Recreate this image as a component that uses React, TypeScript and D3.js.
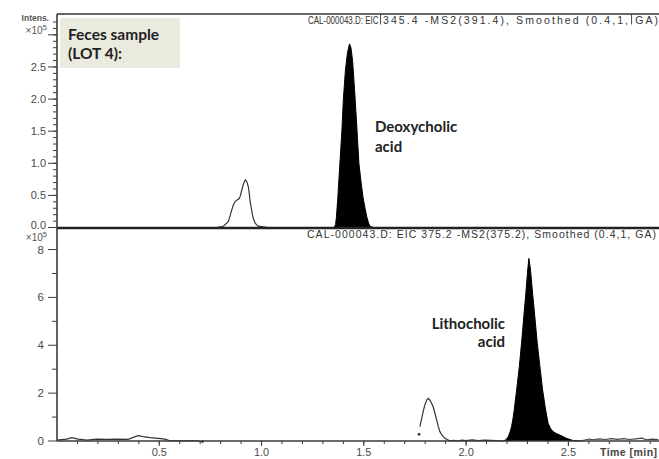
import * as d3 from 'd3';

// retention time (min) / intensity (x10^5) pairs
const topOpenPeak: [number, number][] = [
  [0.78, 0], [0.813, 0.02], [0.837, 0.09], [0.846, 0.18], [0.854, 0.27], [0.862, 0.35],
  [0.87, 0.4], [0.88, 0.43], [0.891, 0.45], [0.897, 0.5], [0.903, 0.58], [0.912, 0.68],
  [0.918, 0.73], [0.922, 0.74], [0.928, 0.71], [0.935, 0.64], [0.94, 0.53], [0.943, 0.43],
  [0.95, 0.3], [0.956, 0.19], [0.962, 0.12], [0.968, 0.07], [0.976, 0.04], [0.984, 0.02],
  [1.008, 0.01], [1.03, 0],
];

const topDeoxycholic: [number, number][] = [
  [1.355, 0], [1.362, 0.05], [1.366, 0.16], [1.373, 0.47], [1.383, 1.0], [1.393, 1.52],
  [1.4, 2.0], [1.41, 2.45], [1.42, 2.72], [1.43, 2.86], [1.437, 2.8], [1.445, 2.6],
  [1.457, 2.03], [1.466, 1.55], [1.476, 1.0], [1.486, 0.72], [1.496, 0.47], [1.506, 0.3],
  [1.515, 0.16], [1.523, 0.07], [1.53, 0.02], [1.545, 0],
];

const botBaseline: [number, number][] = [
  [0, 0.04], [0.047, 0.08], [0.072, 0.14], [0.104, 0.08], [0.145, 0.04], [0.194, 0.08],
  [0.243, 0.07], [0.292, 0.08], [0.348, 0.07], [0.373, 0.15], [0.397, 0.22], [0.422, 0.18],
  [0.455, 0.14], [0.495, 0.11], [0.528, 0.08], [0.552, 0.01], [0.634, 0.01], [0.683, 0.01],
  [0.707, -0.03],
];

const botOpenPeak: [number, number][] = [
  [1.774, 0.6], [1.783, 0.95], [1.792, 1.3], [1.8, 1.55], [1.808, 1.72], [1.815, 1.78],
  [1.822, 1.72], [1.83, 1.6], [1.839, 1.43], [1.848, 1.15], [1.856, 0.88], [1.864, 0.6],
  [1.872, 0.39], [1.884, 0.22], [1.896, 0.11], [1.91, 0.05], [1.921, 0.01], [1.94, 0.03],
  [1.96, 0.0], [1.98, 0.04], [2.0, 0.02], [2.03, 0.05], [2.06, 0.02], [2.09, 0.04],
  [2.12, 0.03], [2.15, 0.02], [2.181, 0],
];

const botLithocholic: [number, number][] = [
  [2.181, 0], [2.195, 0.05], [2.206, 0.18], [2.215, 0.38], [2.222, 0.6], [2.229, 0.92],
  [2.235, 1.29], [2.247, 2.13], [2.26, 3.1], [2.271, 4.08], [2.282, 5.19], [2.292, 6.17],
  [2.301, 7.14], [2.307, 7.63], [2.315, 7.14], [2.325, 6.17], [2.336, 5.19], [2.348, 4.08],
  [2.361, 3.1], [2.374, 2.13], [2.389, 1.29], [2.401, 0.74], [2.413, 0.52], [2.426, 0.39],
  [2.442, 0.31], [2.458, 0.25], [2.475, 0.18], [2.491, 0.11], [2.508, 0.06], [2.524, 0.02],
  [2.556, 0],
];

const botTail: [number, number][] = [
  [2.556, 0], [2.58, 0.04], [2.6, 0.08], [2.62, 0.05], [2.65, 0.09], [2.68, 0.06],
  [2.71, 0.1], [2.74, 0.07], [2.77, 0.1], [2.8, 0.06], [2.83, 0.09], [2.86, 0.12],
  [2.88, 0.05], [2.91, 0.08], [2.94, 0.06],
];

const botDots: [number, number][] = [[0.712, -0.02], [1.77, 0.28]];

const xTickLabels = ['0.5', '1.0', '1.5', '2.0', '2.5'];
const topTickLabels = ['0.0', '0.5', '1.0', '1.5', '2.0', '2.5'];
const botTickLabels = ['0', '2', '4', '6', '8'];
const cursorTimes = [1.582, 2.809];

const topHeaderA = 'CAL-000043.D: EIC';
const topHeaderB = '345.4 -MS2(391.4), Smoothed (0.4,1, GA)';
const botHeader = 'CAL-000043.D: EIC 375.2 -MS2(375.2), Smoothed (0.4,1, GA)';

const W = 659;
const H = 459;
const axisFont = '"Liberation Sans", Arial, sans-serif';
const noteFont = 'Lato, "Open Sans", sans-serif';

export default function App() {
  const x = d3.scaleLinear().domain([0, 2.943]).range([57, 659]);
  const yTop = d3.scaleLinear().domain([0, 3.325]).range([227.5, 14]);
  const yBot = d3.scaleLinear().domain([0, 8.9]).range([441, 228]);

  const lineTop = d3.line<[number, number]>().x(d => x(d[0])).y(d => yTop(d[1]));
  const areaTop = d3.area<[number, number]>().x(d => x(d[0])).y0(yTop(0)).y1(d => yTop(d[1]));
  const lineBot = d3.line<[number, number]>().x(d => x(d[0])).y(d => yBot(d[1]));
  const areaBot = d3.area<[number, number]>().x(d => x(d[0])).y0(yBot(0)).y1(d => yBot(d[1]));

  const xMinor = d3.range(1, 30).map(i => i / 10);
  const topMinor = d3.range(0, 33).map(i => i / 10);
  const botMinor = [1, 3, 5, 7];
  const axisColor = '#3a3a3a';
  const labelColor = '#4a4a4a';

  return (
    <svg width={W} height={H} style={{ position: 'absolute', left: 0, top: 0, background: '#fff' }}>
      {/* top panel frame */}
      <line x1={57} x2={W} y1={14} y2={14} stroke="#666" strokeWidth={2} />
      <text transform="translate(308,23.5) scale(0.76,1)" fontFamily={axisFont} fontSize={10.5} fill="#333">{topHeaderA}</text>
      <text x={383} y={23.5} fontFamily={axisFont} fontSize={10.5} fill="#333"
        textLength={275} lengthAdjust="spacing">{topHeaderB}</text>
      {cursorTimes.map(t => (
        <line key={t} x1={x(t)} x2={x(t)} y1={14} y2={24.5} stroke="#444" strokeWidth={1} />
      ))}

      {/* top traces */}
      <path d={areaTop(topDeoxycholic) ?? ''} fill="#000" />
      <path d={lineTop(topDeoxycholic) ?? ''} fill="none" stroke="#000" strokeWidth={1} />
      <path d={lineTop(topOpenPeak) ?? ''} fill="none" stroke="#333" strokeWidth={1.2} />

      {/* top y axis ticks */}
      {topMinor.map(v => (
        <line key={'tm' + v} x1={53} x2={57} y1={yTop(v)} y2={yTop(v)} stroke={axisColor} strokeWidth={1} />
      ))}
      {[...topTickLabels, '3.0'].map(l => (
        <line key={'tM' + l} x1={48} x2={57} y1={yTop(+l)} y2={yTop(+l)} stroke={axisColor} strokeWidth={1} />
      ))}
      {topTickLabels.map(l => (
        <text key={'tl' + l} x={46} y={yTop(+l) + (l === '0.0' ? 1.5 : 4)} textAnchor="end" fontFamily={axisFont}
          fontSize={11} fill={labelColor}>{l}</text>
      ))}
      <text x={49} y={21} textAnchor="end" fontFamily={axisFont} fontSize={8.5} fontWeight={700} fill="#555">Intens.</text>
      <text x={47} y={34} textAnchor="end" fontFamily={axisFont} fontSize={10} fill="#555">
        ×10<tspan dy={-4.5} fontSize={8}>5</tspan>
      </text>

      {/* annotation box */}
      <rect x={60} y={18} width={120} height={50} fill="#ebeadf" />
      <text x={68} y={40} fontFamily={noteFont} fontWeight={700} fontSize={15.5} fill="#222">Feces sample</text>
      <text x={68} y={59} fontFamily={noteFont} fontWeight={700} fontSize={15.5} fill="#222">(LOT 4):</text>
      <text x={375} y={132} fontFamily={noteFont} fontWeight={700} fontSize={15} fill="#222">Deoxycholic</text>
      <text x={375} y={152} fontFamily={noteFont} fontWeight={700} fontSize={15} fill="#222">acid</text>

      {/* panel separator */}
      <line x1={57} x2={W} y1={228} y2={228} stroke="#222" strokeWidth={2.5} />
      <text x={656} y={238} textAnchor="end" fontFamily={axisFont} fontSize={10.5} fill="#333"
        textLength={349} lengthAdjust="spacing">{botHeader}</text>

      {/* bottom traces */}
      <path d={areaBot(botLithocholic) ?? ''} fill="#000" />
      <path d={lineBot(botLithocholic) ?? ''} fill="none" stroke="#000" strokeWidth={1} />
      <path d={lineBot(botBaseline) ?? ''} fill="none" stroke="#333" strokeWidth={1.2} />
      <path d={lineBot(botOpenPeak) ?? ''} fill="none" stroke="#333" strokeWidth={1.2} />
      <path d={lineBot(botTail) ?? ''} fill="none" stroke="#444" strokeWidth={1.1} />
      {botDots.map(d => (
        <circle key={d[0]} cx={x(d[0])} cy={yBot(d[1])} r={1.3} fill="#222" />
      ))}

      {/* bottom y axis ticks */}
      {botMinor.map(v => (
        <line key={'bm' + v} x1={52} x2={57} y1={yBot(v)} y2={yBot(v)} stroke={axisColor} strokeWidth={1} />
      ))}
      {botTickLabels.map(l => (
        <g key={'bl' + l}>
          <line x1={48} x2={57} y1={yBot(+l)} y2={yBot(+l)} stroke={axisColor} strokeWidth={1} />
          <text x={44} y={yBot(+l) + 4} textAnchor="end" fontFamily={axisFont} fontSize={11.5} fill={labelColor}>{l}</text>
        </g>
      ))}
      <text x={47} y={241} textAnchor="end" fontFamily={axisFont} fontSize={10} fill="#555">
        ×10<tspan dy={-4} fontSize={7.5}>5</tspan>
      </text>
      <text x={505} y={329} textAnchor="end" fontFamily={noteFont} fontWeight={700} fontSize={15} fill="#222">Lithocholic</text>
      <text x={505} y={347} textAnchor="end" fontFamily={noteFont} fontWeight={700} fontSize={15} fill="#222">acid</text>

      {/* axes */}
      <line x1={57} x2={57} y1={14} y2={441} stroke={axisColor} strokeWidth={1.6} />
      <line x1={57} x2={W} y1={441} y2={441} stroke={axisColor} strokeWidth={1.4} />
      {xMinor.map(t => (
        <line key={'xm' + t} x1={x(t)} x2={x(t)} y1={441} y2={444} stroke={axisColor} strokeWidth={1} />
      ))}
      {xTickLabels.map(l => (
        <g key={'xl' + l}>
          <line x1={x(+l)} x2={x(+l)} y1={441} y2={446} stroke={axisColor} strokeWidth={1} />
          <text x={x(+l)} y={455.5} textAnchor="middle" fontFamily={axisFont} fontSize={11} fill={labelColor}>{l}</text>
        </g>
      ))}
      <text x={600} y={455.5} fontFamily={axisFont} fontSize={10.5} fontWeight={700} fill="#444"
        textLength={57} lengthAdjust="spacing">Time [min]</text>
    </svg>
  );
}
